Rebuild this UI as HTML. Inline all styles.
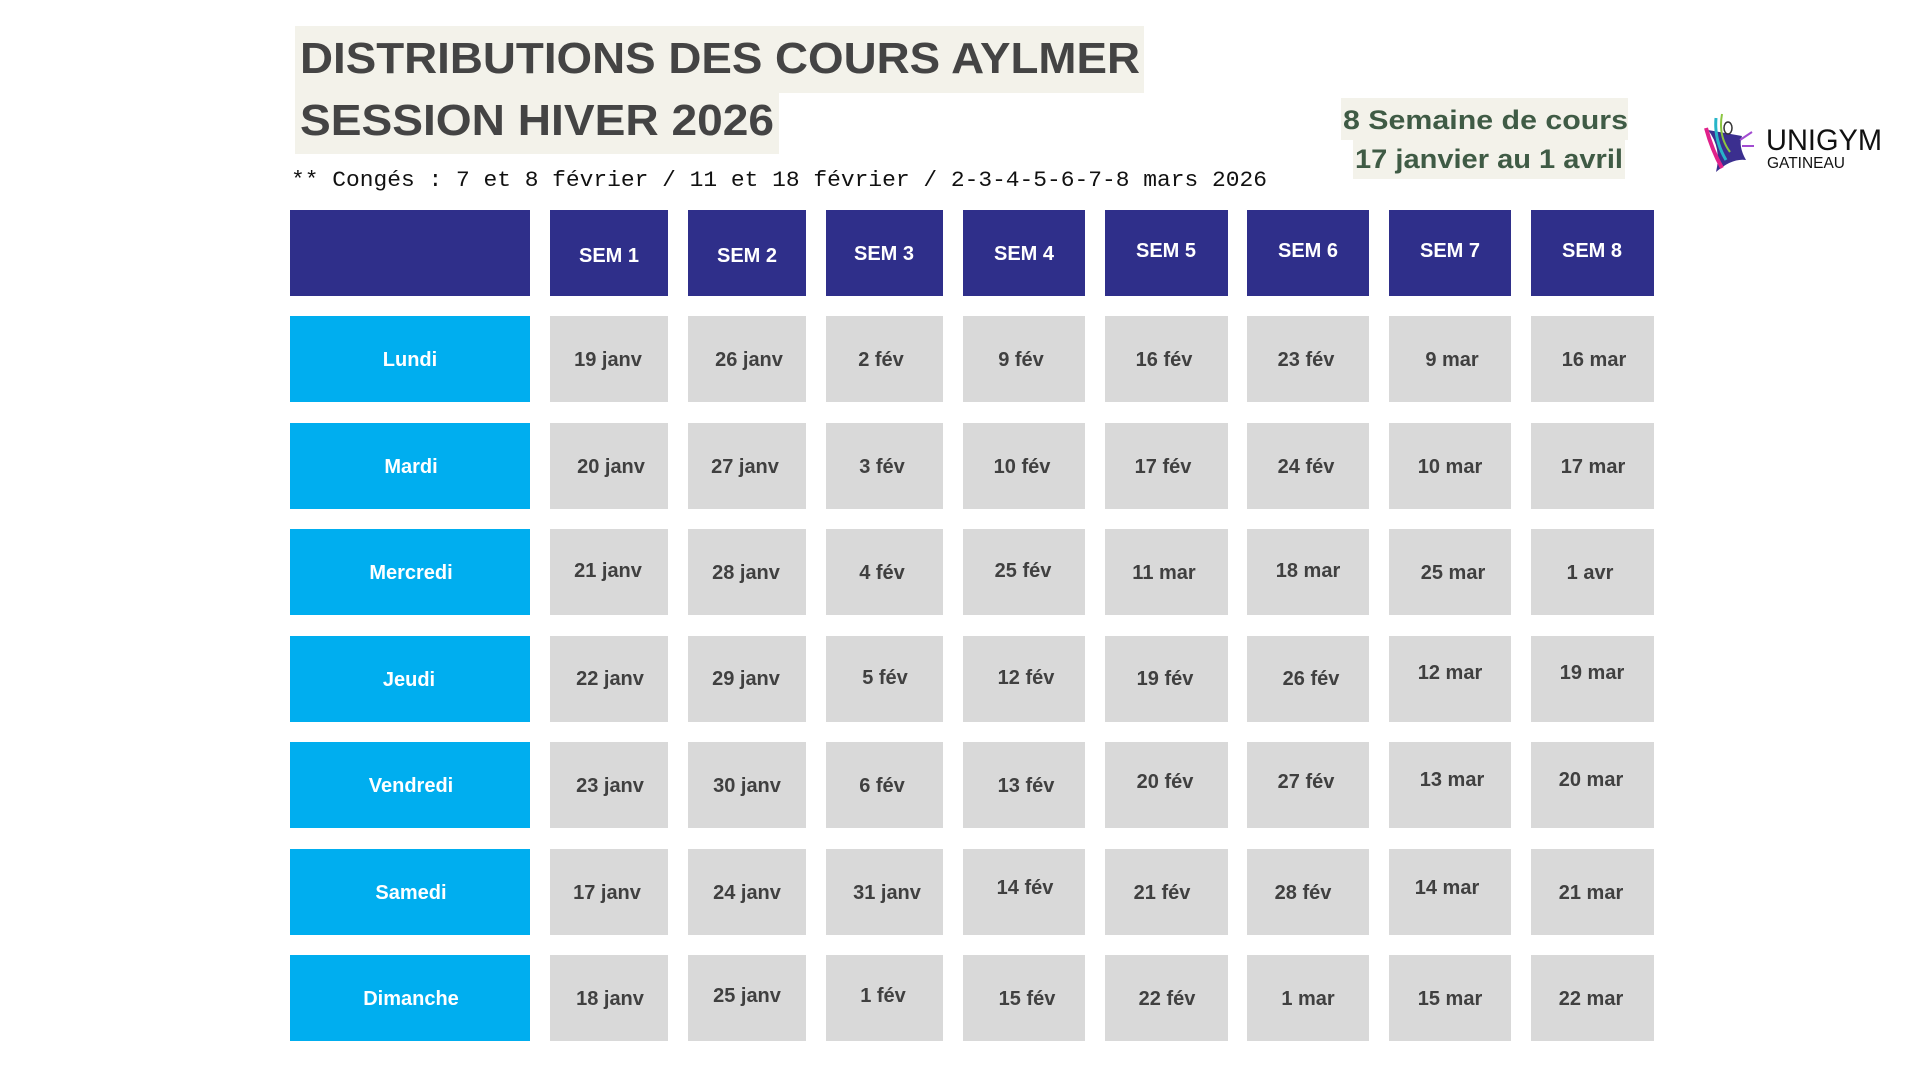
<!DOCTYPE html>
<html><head><meta charset="utf-8"><style>
html,body{margin:0;padding:0;background:#fff;}
svg{display:block}
.g{fill:#d9d9d9}.n{fill:#2f2f8a}.c{fill:#00aeef}
.w{fill:#fff;font-size:20px;font-weight:bold;text-anchor:middle}
.k{fill:#404040;font-size:20px;font-weight:bold;text-anchor:middle}
</style></head><body>
<svg width="1920" height="1080" viewBox="0 0 1920 1080" xmlns="http://www.w3.org/2000/svg" font-family="'Liberation Sans', sans-serif">
<rect width="1920" height="1080" fill="#fff"/>
<rect x="295" y="26" width="849" height="67" fill="#f3f2ea"/>
<rect x="295" y="92" width="484" height="62" fill="#f3f2ea"/>
<text x="300" y="73" font-size="44" font-weight="bold" fill="#444444" textLength="840" lengthAdjust="spacingAndGlyphs">DISTRIBUTIONS DES COURS AYLMER</text>
<text x="300" y="135" font-size="44" font-weight="bold" fill="#444444" textLength="474" lengthAdjust="spacingAndGlyphs">SESSION HIVER 2026</text>
<text x="291" y="186" font-family="'Liberation Mono', monospace" font-size="22" fill="#111" textLength="976" lengthAdjust="spacingAndGlyphs">** Congés : 7 et 8 février / 11 et 18 février / 2-3-4-5-6-7-8 mars 2026</text>
<rect x="1341" y="98" width="287" height="42" fill="#f3f2ea"/>
<rect x="1353" y="140" width="272" height="39" fill="#f3f2ea"/>
<text x="1343" y="129" font-size="27" font-weight="bold" fill="#3f5b45" textLength="285" lengthAdjust="spacingAndGlyphs">8 Semaine de cours</text>
<text x="1355" y="168" font-size="27" font-weight="bold" fill="#3f5b45" textLength="268" lengthAdjust="spacingAndGlyphs">17 janvier au 1 avril</text>
<g>
<path d="M1708 130 Q1722 148 1716 172 Q1732 158 1746 160 Q1738 146 1742 136 Z" fill="#3b2f8f"/>
<path d="M1706 128 Q1712 150 1722 168" stroke="#e0218a" stroke-width="4" fill="none"/>
<path d="M1716 118 Q1714 140 1726 160" stroke="#27b5c8" stroke-width="3" fill="none"/>
<path d="M1722 114 Q1718 136 1730 152" stroke="#8bc53f" stroke-width="2" fill="none"/>
<path d="M1740 140 L1752 132 M1742 146 L1754 146" stroke="#a24bd1" stroke-width="2"/>
<ellipse cx="1728" cy="128" rx="4" ry="6" fill="none" stroke="#333" stroke-width="1.5"/>
</g>
<text x="1766" y="150" font-size="30" fill="#111" textLength="116" lengthAdjust="spacingAndGlyphs">UNIGYM</text>
<text x="1767" y="168" font-size="16" fill="#111" textLength="78" lengthAdjust="spacingAndGlyphs">GATINEAU</text>

<g transform="translate(0,210)">
<rect class="n" x="290" y="0" width="240" height="86"/>
<rect class="n" x="550" y="0" width="118" height="86"/><rect class="n" x="688" y="0" width="118" height="86"/><rect class="n" x="826" y="0" width="117" height="86"/><rect class="n" x="963" y="0" width="122" height="86"/><rect class="n" x="1105" y="0" width="123" height="86"/><rect class="n" x="1247" y="0" width="122" height="86"/><rect class="n" x="1389" y="0" width="122" height="86"/><rect class="n" x="1531" y="0" width="123" height="86"/>
<text class="w" x="609" y="52">SEM 1</text><text class="w" x="747" y="52">SEM 2</text><text class="w" x="884" y="50">SEM 3</text><text class="w" x="1024" y="50">SEM 4</text><text class="w" x="1166" y="47">SEM 5</text><text class="w" x="1308" y="47">SEM 6</text><text class="w" x="1450" y="47">SEM 7</text><text class="w" x="1592" y="47">SEM 8</text>
</g>

<defs>
<g id="row">
<rect class="c" x="290" y="0" width="240" height="86"/>
<rect class="g" x="550" y="0" width="118" height="86"/><rect class="g" x="688" y="0" width="118" height="86"/><rect class="g" x="826" y="0" width="117" height="86"/><rect class="g" x="963" y="0" width="122" height="86"/><rect class="g" x="1105" y="0" width="123" height="86"/><rect class="g" x="1247" y="0" width="122" height="86"/><rect class="g" x="1389" y="0" width="122" height="86"/><rect class="g" x="1531" y="0" width="123" height="86"/>
</g>
</defs>

<g transform="translate(0,316)"><use href="#row"/>
<text class="w" x="410" y="50">Lundi</text>
<text class="k" x="608" y="50">19 janv</text><text class="k" x="749" y="50">26 janv</text><text class="k" x="881" y="50">2 fév</text><text class="k" x="1021" y="50">9 fév</text><text class="k" x="1164" y="50">16 fév</text><text class="k" x="1306" y="50">23 fév</text><text class="k" x="1452" y="50">9 mar</text><text class="k" x="1594" y="50">16 mar</text>
</g>
<g transform="translate(0,423)"><use href="#row"/>
<text class="w" x="411" y="50">Mardi</text>
<text class="k" x="611" y="50">20 janv</text><text class="k" x="745" y="50">27 janv</text><text class="k" x="882" y="50">3 fév</text><text class="k" x="1022" y="50">10 fév</text><text class="k" x="1163" y="50">17 fév</text><text class="k" x="1306" y="50">24 fév</text><text class="k" x="1450" y="50">10 mar</text><text class="k" x="1593" y="50">17 mar</text>
</g>
<g transform="translate(0,529)"><use href="#row"/>
<text class="w" x="411" y="50">Mercredi</text>
<text class="k" x="608" y="48">21 janv</text><text class="k" x="746" y="50">28 janv</text><text class="k" x="882" y="50">4 fév</text><text class="k" x="1023" y="48">25 fév</text><text class="k" x="1164" y="50">11 mar</text><text class="k" x="1308" y="48">18 mar</text><text class="k" x="1453" y="50">25 mar</text><text class="k" x="1590" y="50">1 avr</text>
</g>
<g transform="translate(0,636)"><use href="#row"/>
<text class="w" x="409" y="50">Jeudi</text>
<text class="k" x="610" y="49">22 janv</text><text class="k" x="746" y="49">29 janv</text><text class="k" x="885" y="48">5 fév</text><text class="k" x="1026" y="48">12 fév</text><text class="k" x="1165" y="49">19 fév</text><text class="k" x="1311" y="49">26 fév</text><text class="k" x="1450" y="43">12 mar</text><text class="k" x="1592" y="43">19 mar</text>
</g>
<g transform="translate(0,742)"><use href="#row"/>
<text class="w" x="411" y="50">Vendredi</text>
<text class="k" x="610" y="50">23 janv</text><text class="k" x="747" y="50">30 janv</text><text class="k" x="882" y="50">6 fév</text><text class="k" x="1026" y="50">13 fév</text><text class="k" x="1165" y="46">20 fév</text><text class="k" x="1306" y="46">27 fév</text><text class="k" x="1452" y="44">13 mar</text><text class="k" x="1591" y="44">20 mar</text>
</g>
<g transform="translate(0,849)"><use href="#row"/>
<text class="w" x="411" y="50">Samedi</text>
<text class="k" x="607" y="50">17 janv</text><text class="k" x="747" y="50">24 janv</text><text class="k" x="887" y="50">31 janv</text><text class="k" x="1025" y="45">14 fév</text><text class="k" x="1162" y="50">21 fév</text><text class="k" x="1303" y="50">28 fév</text><text class="k" x="1447" y="45">14 mar</text><text class="k" x="1591" y="50">21 mar</text>
</g>
<g transform="translate(0,955)"><use href="#row"/>
<text class="w" x="411" y="50">Dimanche</text>
<text class="k" x="610" y="50">18 janv</text><text class="k" x="747" y="47">25 janv</text><text class="k" x="883" y="47">1 fév</text><text class="k" x="1027" y="50">15 fév</text><text class="k" x="1167" y="50">22 fév</text><text class="k" x="1308" y="50">1 mar</text><text class="k" x="1450" y="50">15 mar</text><text class="k" x="1591" y="50">22 mar</text>
</g>
</svg>
</body></html>
